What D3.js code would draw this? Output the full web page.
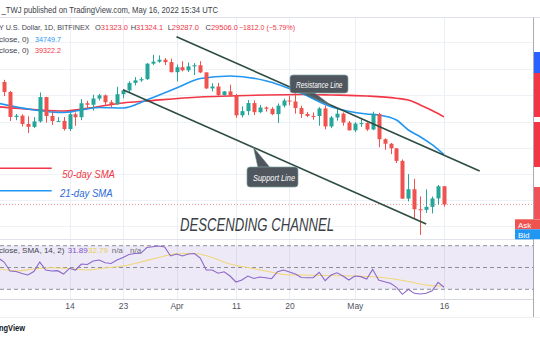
<!DOCTYPE html>
<html><head><meta charset="utf-8">
<script src="https://cdn.jsdelivr.net/npm/d3@7"></script>
<style>
html,body{margin:0;padding:0;background:#fff;}
svg{display:block;font-family:"Liberation Sans",Arial,sans-serif;}
</style></head><body>
<svg id="c" width="540" height="340"></svg>
<script>
// ---------- DATA ----------
const firstCandle = "2022-03-03";
const openVals  = [44090,42670,39310,39480,38420,38060,38740,41960,39440,38790,38810,37790,39670,39280,41120,40920,41760,42200,41260,41000,42360,42890,43960,44330,44500,46820,47130,47430,47060,45530,46280,45810,46410,46580,45500,43170,43440,42250,42750,42160,39530,40070,41150,39940,40550,40380,39680,40800,41490,41360,40480,39700,39450,39440,40430,38110,39240,39740,38600,37630,38470,38530,37730,39690,36550,36010,35470,34040,30080,31020,29050,28990,29280,30100,31323];
const highVals  = [44400,42800,39700,39650,39400,39300,42600,42000,40200,39300,39300,39900,39900,41700,41450,42300,42400,42300,41550,43400,43000,44200,44800,44800,46900,48200,48100,47700,47600,46700,47200,47000,46900,47200,45500,43900,43950,42800,43700,42400,40700,41550,41500,40900,40700,40600,41100,41750,42150,42950,40800,39950,39900,40600,40800,39450,40350,39900,38800,38650,39150,38650,40000,39850,36650,36100,35500,34200,32600,32100,30300,31000,30300,31450,31324.1];
const lowVals   = [42100,38800,38900,38100,37300,37900,38600,38600,38300,38700,37600,37550,38200,38900,40500,40150,41500,40900,40500,40900,41800,42600,43600,44100,44400,46600,46950,46600,45500,44200,45650,45550,45100,45400,43100,42750,42100,42150,42000,39200,39250,39550,39550,39800,40000,39550,38550,40550,40850,39750,39200,39300,38950,38200,37750,37900,38850,38200,37600,37400,38050,37550,37650,35600,35300,34800,33800,30050,29800,28200,26700,28700,28650,29500,29287];
const closeVals = [42670,39310,39480,38420,38060,38740,41960,39440,38790,38810,37790,39670,39280,41120,40920,41760,42200,41260,41000,42360,42890,43960,44330,44500,46820,47130,47430,47060,45530,46280,45810,46410,46580,45500,43170,43440,42250,42750,42160,39530,40070,41150,39940,40550,40380,39680,40800,41490,41360,40480,39700,39450,39440,40430,38110,39240,39740,38600,37630,38470,38530,37730,39690,36550,36010,35470,34040,30080,31020,29050,28990,29280,30100,31323,29506];

const sma21Dates = ["2022-03-02","2022-03-08","2022-03-13","2022-03-19","2022-03-23","2022-03-27","2022-04-01","2022-04-05","2022-04-10","2022-04-16","2022-04-22","2022-04-27","2022-05-03","2022-05-05","2022-05-08","2022-05-10","2022-05-12","2022-05-14","2022-05-16"];
const sma21Vals  = [41117,40223,39890,40550,40490,41560,43230,44600,44970,44280,42490,40660,39700,39570,38920,37670,36850,35900,34749.7];
const sma50Dates = ["2022-03-02","2022-03-08","2022-03-13","2022-03-19","2022-03-23","2022-03-27","2022-04-05","2022-04-10","2022-04-16","2022-04-22","2022-04-27","2022-05-03","2022-05-08","2022-05-10","2022-05-12","2022-05-14","2022-05-16"];
const sma50Vals  = [40660,40290,40090,40690,41160,41430,41980,42110,42250,42320,42250,42110,41800,41560,40890,40150,39322.2];

const firstRsi = "2022-03-02";
const rsiVals = [58.7,55.0,46.8,46.3,44.5,43.1,46.3,55.0,47.7,46.8,47.1,44.0,49.3,47.7,53.2,52.8,56.0,56.9,54.4,53.7,56.9,59.2,61.9,62.8,63.0,68.3,69.1,69.7,68.8,60.6,62.4,60.6,62.4,62.8,58.7,47.7,47.7,44.7,46.1,42.2,36.7,38.5,42.2,39.9,41.3,40.6,39.7,46.1,47.7,45.9,44.0,40.8,40.6,40.6,45.6,37.9,43.1,45.2,42.2,38.5,42.2,41.6,39.4,48.3,38.5,37.0,35.5,31.8,25.4,30.0,26.3,25.7,26.3,28.7,36.4,31.89];
const rsiMaDates = ["2022-03-02","2022-03-05","2022-03-08","2022-03-11","2022-03-14","2022-03-17","2022-03-20","2022-03-23","2022-03-26","2022-03-29","2022-04-01","2022-04-04","2022-04-07","2022-04-10","2022-04-13","2022-04-16","2022-04-19","2022-04-22","2022-04-25","2022-04-28","2022-05-01","2022-05-04","2022-05-07","2022-05-10","2022-05-13","2022-05-16"];
const rsiMaVals  = [49.2,46.8,48.6,49.8,49.1,47.7,49.5,51.4,55.0,59.2,62.6,62.8,59.2,53.2,50.0,46.8,43.6,43.1,42.8,42.5,42.2,41.5,39.9,37.2,33.9,32.79];
const rsiLevels = [70,50,30];

const resistanceDates = ["2022-04-01","2022-05-22"];
const resistancePrices = [51150,32930];
const supportDates = ["2022-03-23","2022-05-13"];
const supportPrices = [42990,27680];

const tickDates  = ["2022-03-14","2022-03-23","2022-04-01","2022-04-11","2022-04-20","2022-05-01","2022-05-16"];
const tickLabels = ["14","23","Apr","11","20","May","16"];
const gridPrices = [27530,29944,32609,35546,38709,42197,46012,50200];
const lastPrice = 29506;
const symbolText = "Y U.S. Dollar, 1D, BITFINEX";
const ohlcLabels = ["O","H","L","C"];
const ohlcValues = ["31323.0","31324.1","29287.0","29506.0"];
const changeText = "\u22121812.0 (\u22125.79%)";

// ---------- SCALES ----------
const P = s => new Date(s + "T00:00:00Z");
const candleDates = d3.utcDay.range(P(firstCandle), d3.utcDay.offset(P(firstCandle), closeVals.length));
const rsiDates = d3.utcDay.range(P(firstRsi), d3.utcDay.offset(P(firstRsi), rsiVals.length));

const x = d3.scaleUtc().domain([P("2022-03-14"), P("2022-05-16")]).range([69.5, 444]);
const y = d3.scaleLog().domain([26350, 54560]).range([239, 17]);
const r = d3.scaleLinear().domain([30, 70]).range([289.3, 245.7]);

const svg = d3.select("#c");
const defs = svg.append("defs");
defs.append("clipPath").attr("id","mainClip").append("rect").attr("x",0).attr("y",17.5).attr("width",533.5).attr("height",221.5);
defs.append("clipPath").attr("id","rsiClip").append("rect").attr("x",0).attr("y",239.5).attr("width",533.5).attr("height",59.5);

svg.append("rect").attr("width",540).attr("height",340).attr("fill","#fff");

// ---------- GRID ----------
const grid = svg.append("g");
grid.selectAll(".hg").data(gridPrices).join("line")
  .attr("x1",0).attr("x2",533.5)
  .attr("y1",d=>Math.round(y(d))+0.5).attr("y2",d=>Math.round(y(d))+0.5)
  .attr("stroke","#eef1f6");
grid.selectAll(".vg").data(tickDates).join("line")
  .attr("x1",d=>Math.round(x(P(d)))+0.5).attr("x2",d=>Math.round(x(P(d)))+0.5)
  .attr("y1",17.5).attr("y2",299)
  .attr("stroke","#eaeef5");

// frame lines
svg.append("line").attr("x1",0).attr("x2",540).attr("y1",17.5).attr("y2",17.5).attr("stroke","#e0e3eb");
svg.append("line").attr("x1",0).attr("x2",534).attr("y1",239.5).attr("y2",239.5).attr("stroke","#e0e3eb");
svg.append("line").attr("x1",0).attr("x2",534).attr("y1",299.5).attr("y2",299.5).attr("stroke","#d6d9e0");
svg.append("line").attr("x1",0).attr("x2",540).attr("y1",317.5).attr("y2",317.5).attr("stroke","#eceef2");
svg.append("line").attr("x1",533.5).attr("x2",533.5).attr("y1",17.5).attr("y2",317).attr("stroke","#a8abb4");

// ---------- RSI PANE ----------
const rsiG = svg.append("g").attr("clip-path","url(#rsiClip)");
rsiG.append("rect").attr("x",0).attr("width",533.5)
  .attr("y",r(70)).attr("height",r(30)-r(70)).attr("fill","#7e57c2").attr("fill-opacity",0.13);
rsiG.selectAll(".lvl").data(rsiLevels).join("line")
  .attr("x1",0).attr("x2",533.5).attr("y1",d=>r(d)).attr("y2",d=>r(d))
  .attr("stroke","#8e9099").attr("stroke-dasharray","4,3");
rsiG.append("path").datum(rsiMaDates.map((d,i)=>[P(d),rsiMaVals[i]]))
  .attr("fill","none").attr("stroke","#f0d777").attr("stroke-width",1.1)
  .attr("d", d3.line().x(d=>x(d[0])).y(d=>r(d[1])).curve(d3.curveMonotoneX));
rsiG.append("path").datum(rsiDates.map((d,i)=>[d,rsiVals[i]]))
  .attr("fill","none").attr("stroke","#8b68c9").attr("stroke-width",1.1)
  .attr("d", d3.line().x(d=>x(d[0])).y(d=>r(d[1])));

// ---------- MAIN PANE ----------
const mainG = svg.append("g").attr("clip-path","url(#mainClip)");
mainG.append("line").attr("x1",0).attr("x2",533.5)
  .attr("y1",y(lastPrice)).attr("y2",y(lastPrice))
  .attr("stroke","#f29a9a").attr("stroke-dasharray","1,2");

const lineGen = d3.line().x(d=>x(d[0])).y(d=>y(d[1])).curve(d3.curveMonotoneX);
mainG.append("path").datum(sma50Dates.map((d,i)=>[P(d),sma50Vals[i]]))
  .attr("fill","none").attr("stroke","#f23645").attr("stroke-width",1.6).attr("d",lineGen);
mainG.append("path").datum(sma21Dates.map((d,i)=>[P(d),sma21Vals[i]]))
  .attr("fill","none").attr("stroke","#2196f3").attr("stroke-width",1.6).attr("d",lineGen);

// candles
const candles = candleDates.map((d,i)=>({d,o:openVals[i],h:highVals[i],l:lowVals[i],c:closeVals[i]}));
const col = c => c.c >= c.o ? "#26a69a" : "#ef5350";
const cg = mainG.append("g");
cg.selectAll(".wick").data(candles).join("line")
  .attr("x1",c=>Math.round(x(c.d))+0.5).attr("x2",c=>Math.round(x(c.d))+0.5)
  .attr("y1",c=>y(c.h)).attr("y2",c=>y(c.l)).attr("stroke",col);
cg.selectAll(".body").data(candles).join("rect")
  .attr("x",c=>Math.round(x(c.d))-1.5).attr("width",4)
  .attr("y",c=>y(Math.max(c.o,c.c)))
  .attr("height",c=>Math.max(1,Math.abs(y(c.o)-y(c.c))))
  .attr("fill",col);

// trend lines
const tl = d3.line().x(d=>x(P(d[0]))).y(d=>y(d[1]));
mainG.append("path").datum(resistanceDates.map((d,i)=>[d,resistancePrices[i]]))
  .attr("fill","none").attr("stroke","#2e4d42").attr("stroke-width",1.6).attr("d",tl);
mainG.append("path").datum(supportDates.map((d,i)=>[d,supportPrices[i]]))
  .attr("fill","none").attr("stroke","#2e4d42").attr("stroke-width",1.6).attr("d",tl);

// callouts
function callout(box, tip, base, label, tx, tw, tb){
  const g = svg.append("g");
  g.append("path").attr("d",`M${base[0]},${base[1]}L${tip[0]},${tip[1]}L${base[2]},${base[3]}Z`)
    .attr("fill","#4f565d").attr("stroke","#6f8a8c").attr("stroke-width",0.6);
  g.append("rect").attr("x",box[0]).attr("y",box[1]).attr("width",box[2]).attr("height",box[3])
    .attr("rx",3).attr("fill","#4f565d").attr("stroke","#7fa3a5").attr("stroke-width",0.7);
  g.append("text").attr("x",tx).attr("y",tb).text(label)
    .attr("fill","#fff").attr("font-size",8.5).attr("font-style","italic")
    .attr("textLength",tw).attr("lengthAdjust","spacingAndGlyphs");
}
callout([290,75,58,18],[330,104.5],[302,92.5,314,92.5],"Resistance Line",296,46.5,87.5);
callout([247,167,51,20],[253.5,147.5],[258,167.5,270,167.5],"Support Line",253,42,180.5);

// ---------- LEGEND / ANNOTATIONS ----------
svg.append("line").attr("x1",0).attr("x2",51.7).attr("y1",168.3).attr("y2",168.3).attr("stroke","#f23645").attr("stroke-width",1.6);
svg.append("line").attr("x1",0).attr("x2",51.7).attr("y1",190.7).attr("y2",190.7).attr("stroke","#2196f3").attr("stroke-width",1.6);
svg.append("text").attr("x",62.3).attr("y",178).text("50-day SMA").attr("fill","#f23645")
  .attr("font-size",11).attr("font-style","italic").attr("textLength",52.7).attr("lengthAdjust","spacingAndGlyphs");
svg.append("text").attr("x",60).attr("y",197.3).text("21-day SMA").attr("fill","#2e6bd8")
  .attr("font-size",11).attr("font-style","italic").attr("textLength",52.7).attr("lengthAdjust","spacingAndGlyphs");
svg.append("text").attr("x",180).attr("y",231).text("DESCENDING CHANNEL").attr("fill","#3a3e46")
  .attr("font-size",18).attr("font-style","italic").attr("textLength",154).attr("lengthAdjust","spacingAndGlyphs");

// ---------- HEADER TEXT ----------
function t(xp, yp, s, fill, size, len){
  const e = svg.append("text").attr("x",xp).attr("y",yp).text(s).attr("fill",fill).attr("font-size",size);
  if(len) e.attr("textLength",len).attr("lengthAdjust","spacingAndGlyphs");
  return e;
}
const dark = "#434651", red = "#f23645";
t(1.5,12.5,"_TWJ published on TradingView.com, May 16, 2022 15:34 UTC","#3b3e47",9,216.5);
// symbol + OHLC row + change as one text with coloured spans
const row2 = svg.append("text").attr("y",30).attr("font-size",7.5);
row2.append("tspan").attr("x",-1).attr("fill",dark).attr("font-size",7.2).text(symbolText);
const ohlcX = [95,130.7,167.7,205.5];
ohlcLabels.forEach((lab,i)=>{
  row2.append("tspan").attr("x",ohlcX[i]).attr("fill",dark).text(lab);
  row2.append("tspan").attr("fill",red).text(ohlcValues[i]);
});
row2.append("tspan").attr("x",239).attr("fill",red).attr("font-size",7).text(changeText);

t(-1,41.5,"close, 0)",dark,8,30); t(35,41.5,"34749.7","#2196f3",8,26);
t(-1,53,"close, 0)",dark,8,30); t(35,53,"39322.2",red,8,26);
const rsiT = svg.append("text").attr("y",253).attr("font-size",8);
[["close, SMA, 14, 2)",-1,dark],["31.89",67.7,"#7e57c2"],["32.79",88,"#e9cc55"],["n/a",111.7,"#6a6d78"],["n/a",130,"#6a6d78"]]
  .forEach(s=>rsiT.append("tspan").attr("x",s[1]).attr("fill",s[2]).text(s[0]));

// ---------- X AXIS ----------
const xAxis = d3.axisBottom(x).tickValues(tickDates.map(P)).tickSize(0).tickPadding(0)
  .tickFormat((d,i)=>tickLabels[i]);
const ax = svg.append("g").attr("transform","translate(0,303)").call(xAxis);
ax.select(".domain").remove();
ax.selectAll("text").attr("font-size",8.5).attr("fill","#50535e").attr("font-family","Liberation Sans, Arial, sans-serif");

t(-1,331,"ngView","#131722",8.5,26).attr("font-weight","bold");

// ---------- RIGHT SCALE EDGE ----------
const strip = [[52,73,"#2962ff"],[73,117,"#f23645"],[122,167,"#f23645"],[187,219,"#f0525a"]];
svg.selectAll(".strip").data(strip).join("rect")
  .attr("x",534).attr("width",6).attr("y",d=>d[0]).attr("height",d=>d[1]-d[0]).attr("fill",d=>d[2]);
svg.append("rect").attr("x",515).attr("y",219.3).attr("width",25).attr("height",10).attr("fill","#ef5350");
svg.append("rect").attr("x",515).attr("y",229.3).attr("width",25).attr("height",10).attr("fill","#2196f3");
t(518,227.5,"Ask","#fff",8); t(518,237.5,"Bid","#fff",8);
</script>
</body></html>
